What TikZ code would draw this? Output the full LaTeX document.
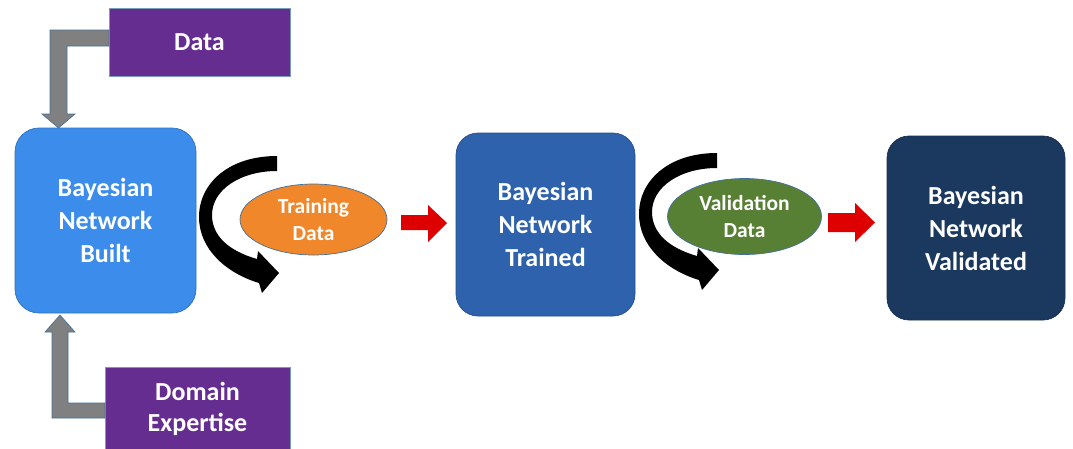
\documentclass[tikz,border=0pt]{standalone}
\usepackage{fontspec}
\setmainfont{Carlito}
\usetikzlibrary{shapes.geometric}
\definecolor{purplebox}{RGB}{102,45,145}
\definecolor{builtblue}{RGB}{60,140,235}
\definecolor{trainedblue}{RGB}{46,98,172}
\definecolor{validnavy}{RGB}{27,57,95}
\definecolor{trainorange}{RGB}{240,135,42}
\definecolor{validgreen}{RGB}{88,128,52}
\definecolor{flowred}{RGB}{222,0,0}
\definecolor{edgeblue}{RGB}{65,113,156}
\definecolor{pipegray}{RGB}{128,128,128}
\begin{document}
\begin{tikzpicture}[x=1pt,y=-1pt,
  every node/.style={inner sep=0pt,outer sep=0pt,align=center,text=white,font=\bfseries},
  inputbox/.style={rectangle,fill=purplebox,draw=edgeblue!70,line width=0.6pt,font=\fontsize{26}{33}\bfseries},
  stagebox/.style={rectangle,rounded corners=24pt,minimum width=180pt,minimum height=184pt,line width=0.7pt,font=\fontsize{26}{33}\bfseries},
  dataoval/.style={ellipse,draw=edgeblue,line width=0.7pt,font=\fontsize{21.5}{27}\bfseries},
  pipe/.style={fill=pipegray,draw=edgeblue,line width=0.6pt},
  redarrow/.style={fill=flowred},
  curlarrow/.style={fill=black}]
\useasboundingbox (0,0) rectangle (1073,448);

% input boxes
\node[inputbox,minimum width=181pt,minimum height=68pt] (data) at (199.5,42) {Data};
\node[inputbox,minimum width=185pt,minimum height=90pt,anchor=north west] (domain) at (105,367) {};
\node at (197.5,391) {\fontsize{26}{33}\bfseries Domain};
\node at (197.5,424) {\fontsize{26}{33}\bfseries Expertise};

% stage boxes
\node[stagebox,fill=builtblue,draw=builtblue!80!black,minimum width=181pt,minimum height=185pt] (built) at (105.5,220.5) {Bayesian\\Network\\Built};
\node[stagebox,fill=trainedblue,draw=trainedblue!80!black,minimum width=179pt,minimum height=183pt,rounded corners=22pt] (trained) at (545.5,224.5) {Bayesian\\Network\\Trained};
\node[stagebox,fill=validnavy,draw=validnavy!80!black,minimum width=178pt,minimum height=184pt,rounded corners=22pt] (validated) at (976,228) {Bayesian\\Network\\Validated};

% data ovals
\node[dataoval,fill=trainorange,minimum width=147pt,minimum height=71pt] (train) at (313.5,219.5) {Training\\Data};
\node[dataoval,fill=validgreen,minimum width=154pt,minimum height=76pt] (valid) at (744.5,216.5) {Validation\\Data};

% gray elbow arrows feeding the first stage
\draw[pipe] (data.west |- 0,30) -- (50,30) -- (50,114) -- (42,114) -- (58.5,128) -- (75,114) -- (67,114) -- (67,46) -- (data.west |- 0,46) -- cycle;
\draw[pipe] (domain.west |- 0,418) -- (52,418) -- (52,332) -- (45,332) -- (60,315) -- (75,332) -- (68,332) -- (68,403) -- (domain.west |- 0,403) -- cycle;

% curved black arrows
\foreach \dx/\dy in {0/0,440/-3}{
  \begin{scope}[shift={(\dx,\dy)}]
    \fill[curlarrow] (277,156) .. controls (228,156) and (199,184) .. (199,217)
      .. controls (199,249) and (226,273) .. (259,283)
      -- (262,293) -- (279,273) -- (258,251) -- (257,259)
      .. controls (229,251) and (212,236) .. (212,215)
      .. controls (212,190) and (240,171) .. (277,171) -- cycle;
  \end{scope}
}

% red flow arrows
\fill[redarrow] (401,215) -- (428,215) -- (428,205) -- (447,223) -- (428,242) -- (428,230) -- (401,230) -- cycle;
\fill[redarrow] (828,213) -- (855,213) -- (855,203) -- (875,222.5) -- (855,242) -- (855,232) -- (828,232) -- cycle;
\end{tikzpicture}
\end{document}
